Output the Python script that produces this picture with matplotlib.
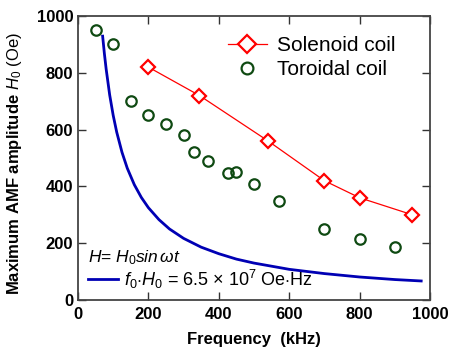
import matplotlib
matplotlib.use("Agg")
import matplotlib.pyplot as plt
from matplotlib.lines import Line2D

plt.rcParams['font.family'] = ['Liberation Sans', 'DejaVu Sans']
plt.rcParams['mathtext.fontset'] = 'custom'
plt.rcParams['mathtext.rm'] = 'Liberation Sans'
plt.rcParams['mathtext.it'] = 'Liberation Sans:italic'
plt.rcParams['mathtext.bf'] = 'Liberation Sans:bold'

# Data
sol_f = [200, 345, 540, 700, 800, 950]
sol_h = [820, 720, 560, 420, 360, 300]

tor_f = [50, 100, 150, 200, 250, 300, 330, 370, 425, 450, 500, 570, 700, 800, 900]
tor_h = [950, 900, 700, 650, 620, 580, 520, 490, 446, 450, 410, 350, 250, 215, 187]

fh_f = [70, 75, 80, 90, 100, 110, 125, 140, 160, 180, 200, 230, 260, 300, 350,
        400, 450, 500, 600, 700, 800, 900, 975]
fh_h = [929, 867, 813, 722, 650, 591, 520, 464, 406, 361, 325, 283, 250, 217, 186,
        163, 144, 130, 108, 93, 81, 72, 67]

xticks = [0, 200, 400, 600, 800, 1000]
yticks = [0, 200, 400, 600, 800, 1000]

red = '#ff0000'
green = '#0f4a12'
blue = '#0000b4'

fig = plt.figure(figsize=(4.5, 3.49), dpi=100)
ax = fig.add_axes([78/450, 1-300/349, 352/450, 284/349])

ax.plot(fh_f, fh_h, color=blue, lw=2.0)
ax.plot(sol_f, sol_h, color=red, lw=0.9, marker='D', ms=7.5, mfc='white',
        mec=red, mew=1.6)
ax.plot(tor_f, tor_h, ls='none', marker='o', ms=7.5, mfc='none', mec=green, mew=1.6)

ax.set_xlim(0, 1000)
ax.set_ylim(0, 1000)
ax.set_xticks(xticks)
ax.set_yticks(yticks)
ax.tick_params(direction='in', length=6, width=1, top=True, right=True,
               labelsize=12, colors='#333333', labelcolor='black')
ax.tick_params(axis='x', pad=5)
ax.tick_params(axis='y', pad=3.5)
for lab in ax.get_xticklabels() + ax.get_yticklabels():
    lab.set_fontweight('bold')
for s in ax.spines.values():
    s.set_linewidth(1.3)
    s.set_color('#444444')

ax.set_xlabel('Frequency  (kHz)', fontsize=12, fontweight='bold', labelpad=7)
ax.set_ylabel(r'$\mathbf{Maximum\ AMF\ amplitude}$ $\mathit{H_0}$ (Oe)',
              fontsize=12)
ax.yaxis.set_label_coords(-0.152, 0.48)

h1 = [Line2D([0], [0], color=red, lw=0.9, marker='D', ms=9.5, mfc='white', mec=red, mew=1.6),
      Line2D([0], [0], ls='none', marker='o', ms=8.5, mfc='none', mec=green, mew=1.6)]
leg1 = ax.legend(h1, ['Solenoid coil', 'Toroidal coil'], loc='upper left',
                 bbox_to_anchor=(0.426, 0.93), frameon=False, fontsize=15,
                 borderpad=0, borderaxespad=0, handlelength=1.87,
                 handletextpad=0.48, labelspacing=0.25)
ax.add_artist(leg1)

ax.text(0.028, 0.148, r'$H$= $H_0\mathit{sin}\,\omega t$', transform=ax.transAxes,
        fontsize=12.5, va='center', ha='left')
h2 = [Line2D([0], [0], color=blue, lw=2.0)]
ax.legend(h2, [r'$f_0$$\cdot$$H_0$ = 6.5 $\times$ 10$^7$ Oe$\cdot$Hz'],
          loc='center left', bbox_to_anchor=(0.028, 0.074), frameon=False,
          fontsize=13, borderpad=0, borderaxespad=0, handlelength=1.67,
          handletextpad=0.35)

fig.savefig('out.png', dpi=100)
